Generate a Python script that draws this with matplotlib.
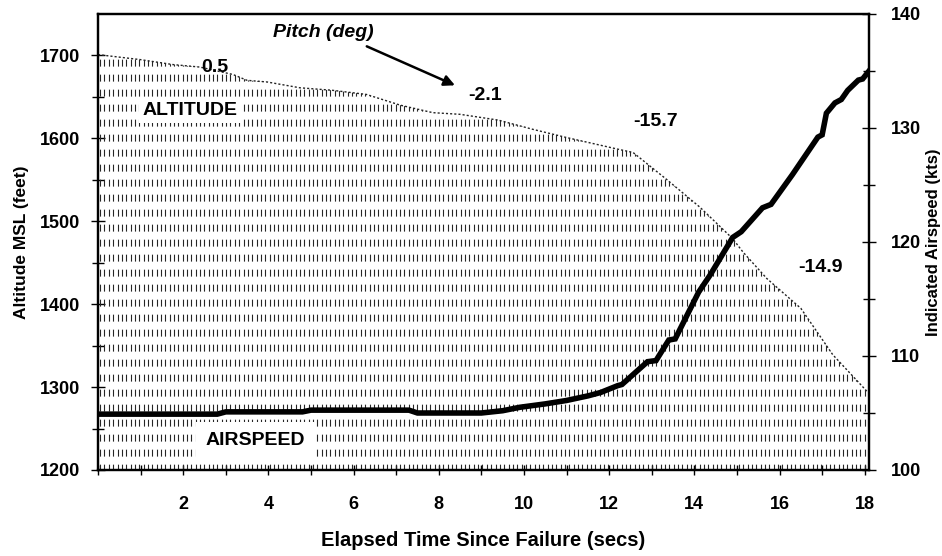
import numpy as np
import matplotlib
matplotlib.use("Agg")
import matplotlib.pyplot as plt
from matplotlib.collections import LineCollection

# ---- data ----
alt_time = [0.0, 0.99, 1.76, 2.39, 3.17, 3.5, 3.97, 4.74, 5.5, 6.3, 7.1, 7.86, 8.5,
            9.4, 10.2, 11.0, 12.2, 12.56, 13.36, 14.13, 14.9, 15.14, 15.7, 16.5,
            17.25, 18.05]
altitude = [1701, 1695, 1689, 1686, 1677, 1670, 1668, 1661, 1658, 1653, 1640, 1631,
            1629, 1622, 1611, 1601, 1587, 1583, 1550, 1517, 1479, 1463, 1431, 1395,
            1339, 1295]

spd_time = [0.0, 2.8, 3.0, 4.8, 5.0, 7.3, 7.5, 9.0, 9.5, 9.9, 10.5, 11.0, 11.5,
            11.8, 12.2, 12.3, 12.9, 13.1, 13.4, 13.55, 14.1, 14.37, 14.9, 15.1,
            15.6, 15.8, 16.3, 16.9, 17.0, 17.1, 17.3, 17.45, 17.6, 17.85, 17.95, 18.1]
airspeed = [104.9, 104.9, 105.1, 105.1, 105.25, 105.25, 105.0, 105.0, 105.2, 105.5,
            105.8, 106.1, 106.5, 106.8, 107.4, 107.5, 109.5, 109.6, 111.4, 111.5,
            115.6, 117.1, 120.4, 120.9, 123.0, 123.3, 125.9, 129.2, 129.4, 131.3,
            132.2, 132.5, 133.3, 134.2, 134.3, 135.0]

pitch_labels = ["0.5", "-2.1", "-15.7", "-14.9"]
pitch_pos = [(2.75, 1685), (9.08, 1652), (13.08, 1620), (16.95, 1444)]

x_ticks = list(range(0, 19))
x_labels = ["" if (v % 2 or v == 0) else str(v) for v in x_ticks]

plt.rcParams['font.family'] = ['Liberation Sans', 'DejaVu Sans']
plt.rcParams['font.weight'] = 'bold'

fig = plt.figure(figsize=(9.42, 5.56), dpi=100)
ax = fig.add_axes([98/942, 1-470/556, (869-98)/942, (470-14)/556])
ax2 = ax.twinx()

XMAX = 18.1
ax.set_xlim(0, XMAX)
ax.set_ylim(1200, 1750)
ax2.set_ylim(100, 140)

# altitude area, filled with a dashed vertical texture
poly = ax.fill_between(alt_time, 1200, altitude, facecolor='white', edgecolor='none', zorder=1)
xs = np.arange(0.05, XMAX, 0.102)
segs = [[(x, 1200), (x, 1750)] for x in xs]
LW = 0.8
lc = LineCollection(segs, colors='#262626', linewidths=LW,
                    linestyles=[(1.0, (5.0 / LW, 5.8 / LW))], zorder=2)
ax.add_collection(lc)
lc.set_clip_path(poly.get_paths()[0], ax.transData)
ax.plot(alt_time, altitude, color='#222222', lw=1.0, ls=(0, (1.5, 1.5)), zorder=3)

# airspeed
ax2.plot(spd_time, airspeed, color='black', lw=4.0, solid_joinstyle='miter', zorder=5)

# text annotations
for lab, (tx, ty) in zip(pitch_labels, pitch_pos):
    ax.text(tx, ty, lab, ha='center', va='center', fontsize=14, fontweight='bold', zorder=6)
ax.text(5.28, 1728, "Pitch (deg)", ha='center', va='center', fontsize=14,
        fontweight='bold', fontstyle='italic', zorder=6)
ax.annotate("", xy=(8.38, 1664), xytext=(6.31, 1711),
            arrowprops=dict(arrowstyle='-|>', color='black', lw=1.8,
                            mutation_scale=16, shrinkA=0, shrinkB=0), zorder=6)
ax.text(2.16, 1634, "ALTITUDE", ha='center', va='center', fontsize=14, fontweight='bold',
        zorder=6, bbox=dict(boxstyle='square,pad=0.2', fc='white', ec='none'))
ax.text(3.69, 1236, "AIRSPEED", ha='center', va='center', fontsize=14, fontweight='bold',
        zorder=6, bbox=dict(boxstyle='square,pad=0.5', fc='white', ec='none'))

# axes styling
ax.set_xticks(x_ticks)
ax.set_xticklabels(x_labels)
ax.set_yticks([1200, 1300, 1400, 1500, 1600, 1700])
ax.set_yticks(np.arange(1250, 1750, 100), minor=True)
ax2.set_yticks([100, 110, 120, 130, 140])
ax2.set_yticks([105, 115, 125, 135], minor=True)

ax.tick_params(axis='x', direction='inout', length=7, width=1, pad=15, labelsize=13)
ax.tick_params(axis='y', which='major', direction='inout', length=10, width=1, pad=8, labelsize=13)
ax.tick_params(axis='y', which='minor', direction='inout', length=8, width=1)
ax2.tick_params(axis='y', which='major', direction='inout', length=10, width=1, pad=11, labelsize=13)
ax2.tick_params(axis='y', which='minor', direction='inout', length=8, width=1)

for a in (ax, ax2):
    for s in a.spines.values():
        s.set_linewidth(1.6)
        s.set_color('black')

ax.set_xlabel("Elapsed Time Since Failure (secs)", fontsize=14.5, fontweight='bold', labelpad=13)
ax.set_ylabel("Altitude MSL (feet)", fontsize=12.5, fontweight='bold', labelpad=8)
ax2.set_ylabel("Indicated Airspeed (kts)", fontsize=12, fontweight='bold', labelpad=3)

fig.savefig("out.png", dpi=100)
